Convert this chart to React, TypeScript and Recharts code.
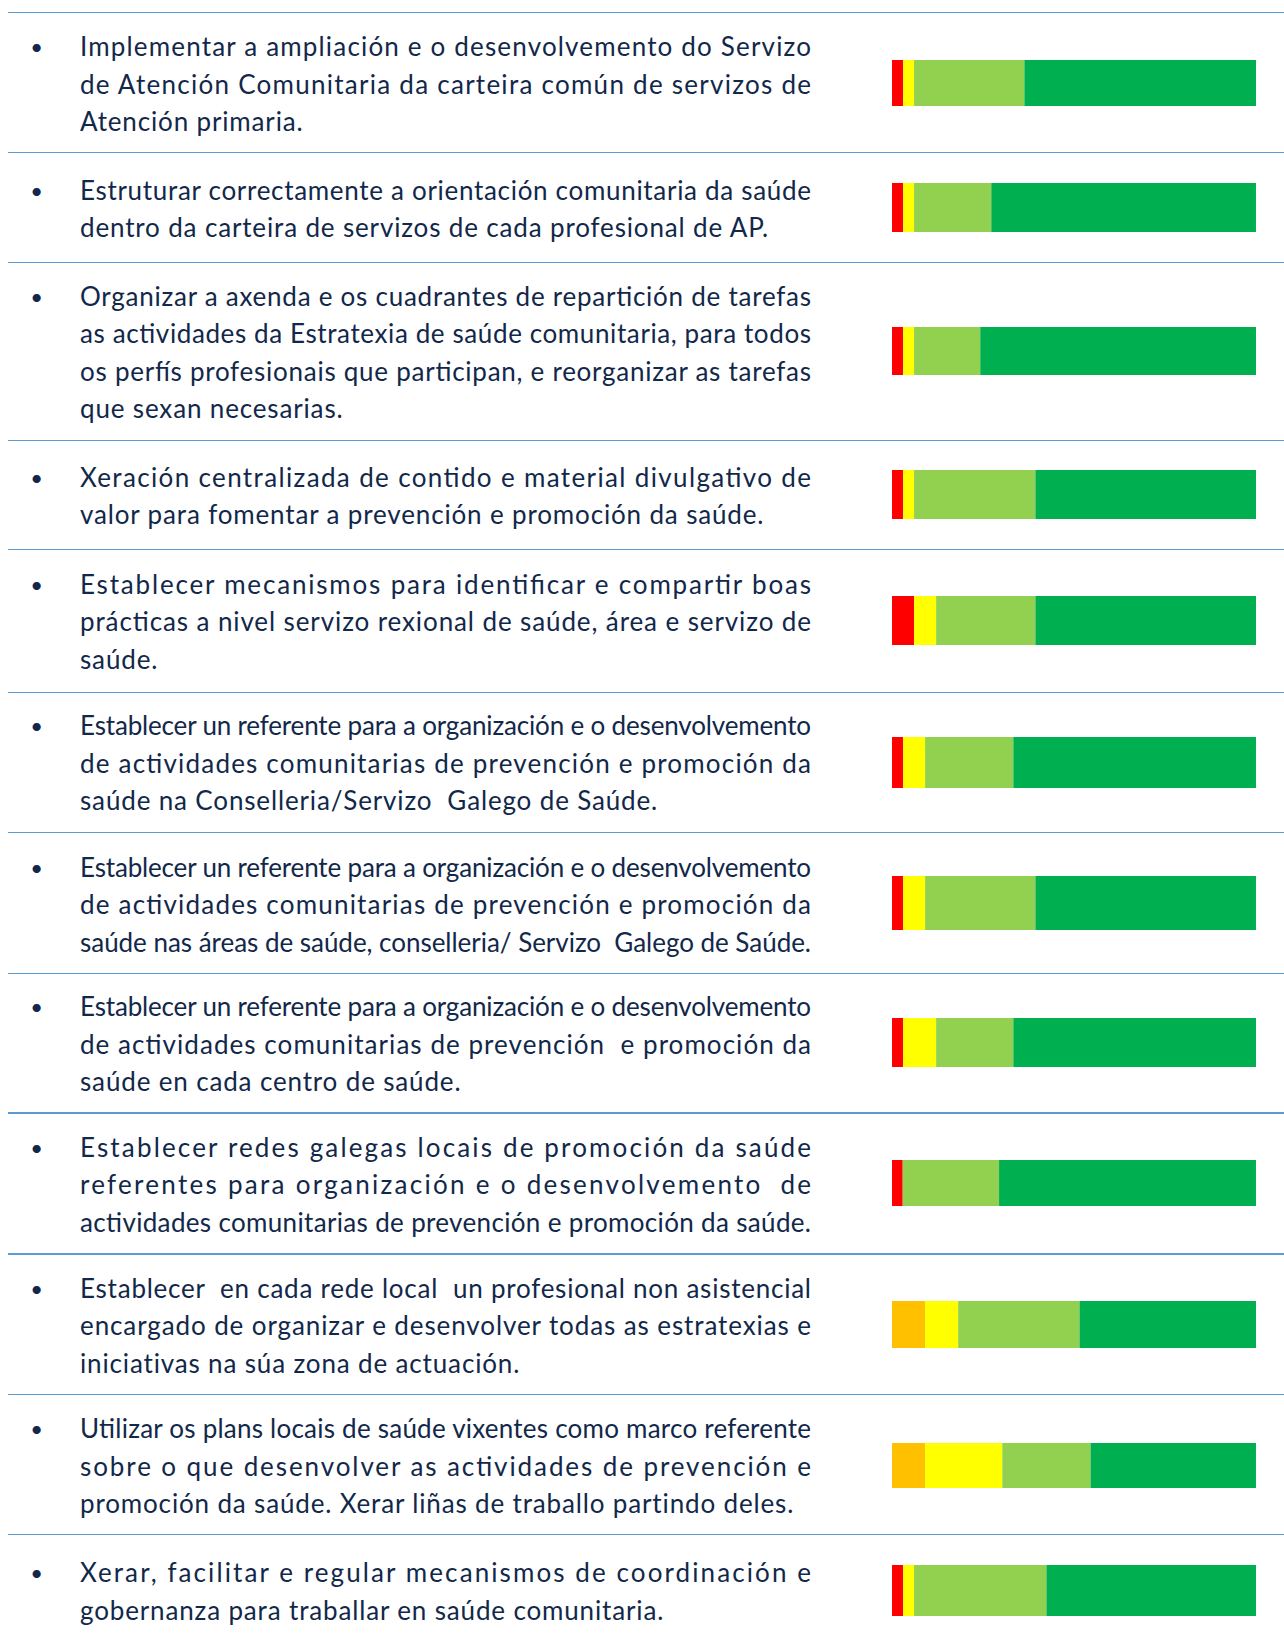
import React from 'react';
import { BarChart, Bar, XAxis, YAxis } from 'recharts';

// texto de cada actuación, xa partido en liñas como no orixinal
const actuacions: string[][] = [
  [
    'Implementar a ampliación e o desenvolvemento do Servizo',
    'de Atención Comunitaria da carteira común de servizos de',
    'Atención primaria.',
  ],
  [
    'Estruturar correctamente a orientación comunitaria da saúde',
    'dentro da carteira de servizos de cada profesional de AP.',
  ],
  [
    'Organizar a axenda e os cuadrantes de repartición de tarefas',
    'as actividades da Estratexia de saúde comunitaria, para todos',
    'os perfís profesionais que participan, e reorganizar as tarefas',
    'que sexan necesarias.',
  ],
  [
    'Xeración centralizada de contido e material divulgativo de',
    'valor para fomentar a prevención e promoción da saúde.',
  ],
  [
    'Establecer mecanismos para identificar e compartir boas',
    'prácticas a nivel servizo rexional de saúde, área e servizo de',
    'saúde.',
  ],
  [
    'Establecer un referente para a organización e o desenvolvemento',
    'de actividades comunitarias de prevención e promoción da',
    'saúde na Conselleria/Servizo  Galego de Saúde.',
  ],
  [
    'Establecer un referente para a organización e o desenvolvemento',
    'de actividades comunitarias de prevención e promoción da',
    'saúde nas áreas de saúde, conselleria/ Servizo  Galego de Saúde.',
  ],
  [
    'Establecer un referente para a organización e o desenvolvemento',
    'de actividades comunitarias de prevención  e promoción da',
    'saúde en cada centro de saúde.',
  ],
  [
    'Establecer redes galegas locais de promoción da saúde',
    'referentes para organización e o desenvolvemento  de',
    'actividades comunitarias de prevención e promoción da saúde.',
  ],
  [
    'Establecer  en cada rede local  un profesional non asistencial',
    'encargado de organizar e desenvolver todas as estratexias e',
    'iniciativas na súa zona de actuación.',
  ],
  [
    'Utilizar os plans locais de saúde vixentes como marco referente',
    'sobre o que desenvolver as actividades de prevención e',
    'promoción da saúde. Xerar liñas de traballo partindo deles.',
  ],
  [
    'Xerar, facilitar e regular mecanismos de coordinación e',
    'gobernanza para traballar en saúde comunitaria.',
  ],
];

// respostas por categoría (barras ao 100 %)
const vermello = [1, 1, 1, 1, 2, 1, 1, 1, 1, 0, 0, 1];
const laranxa = [0, 0, 0, 0, 0, 0, 0, 0, 0, 3, 3, 0];
const amarelo = [1, 1, 1, 1, 2, 2, 2, 3, 0, 3, 7, 1];
const verdeClaro = [10, 7, 6, 11, 9, 8, 10, 7, 9, 11, 8, 12];
const verde = [21, 24, 25, 20, 20, 22, 20, 22, 24, 16, 15, 19];

const series = [
  { key: 'vermello', color: '#FF0000' },
  { key: 'laranxa', color: '#FFC000' },
  { key: 'amarelo', color: '#FFFF00' },
  { key: 'verdeClaro', color: '#92D050' },
  { key: 'verde', color: '#00B050' },
];

// maquetación
const TOP = 12.7;
const rowHeights = [140, 109.6, 178, 109, 143, 140.4, 140.6, 139.8, 140.9, 140.5, 140.2, 110];
const barThickness = [46, 49, 48, 49, 49, 51, 54, 49, 46, 47, 45, 51];
// a última liña chega á marxe dereita
const lastLineFull = [false, false, false, false, false, false, true, false, true, false, false, false];
const LINE_H = 37.5;
const TEXT_X = 80;
const TEXT_W = 731;
const TEXT_COLOR = '#12284a';
const RULE_COLOR = '#5b9bd5';
const FONT = 'Lato, "Open Sans", sans-serif';

const Fila: React.FC<{ i: number; top: number }> = ({ i, top }) => {
  const h = rowHeights[i];
  const lines = actuacions[i];
  const n = lines.length;
  const firstBase = (h - n * LINE_H) / 2 + 29.5;
  const data = [
    {
      name: `a${i}`,
      vermello: vermello[i],
      laranxa: laranxa[i],
      amarelo: amarelo[i],
      verdeClaro: verdeClaro[i],
      verde: verde[i],
    },
  ];

  return (
    <div style={{ position: 'absolute', left: 0, top, width: 1284, height: h }}>
      <div
        style={{ position: 'absolute', left: 8, right: 0, top: -0.75, height: 1.5, background: RULE_COLOR }}
      />
      <svg width={850} height={h} style={{ position: 'absolute', left: 0, top: 0 }}>
        <text
          x={36.7}
          y={firstBase - 1}
          textAnchor="middle"
          fontFamily={FONT}
          fontSize={22}
          fill={TEXT_COLOR}
        >
          •
        </text>
        {lines.map((line, j) => {
          const justify = j < n - 1 || lastLineFull[i];
          return (
            <text
              key={j}
              x={TEXT_X}
              y={firstBase + j * LINE_H}
              fontFamily={FONT}
              fontSize={26}
              fill={TEXT_COLOR}
              style={{ whiteSpace: 'pre', letterSpacing: justify ? 0 : 0.85 }}
              textLength={justify ? TEXT_W : undefined}
              lengthAdjust={justify ? 'spacing' : undefined}
            >
              {line}
            </text>
          );
        })}
      </svg>
      <div style={{ position: 'absolute', left: 880, top: 0 }}>
        <BarChart
          layout="vertical"
          width={400}
          height={h}
          data={data}
          stackOffset="expand"
          barCategoryGap={0}
          margin={{ top: 0, right: 24, bottom: 0, left: 12 }}
        >
          <XAxis type="number" hide domain={[0, 1]} />
          <YAxis type="category" dataKey="name" hide />
          {series.map((s) => (
            <Bar
              key={s.key}
              dataKey={s.key}
              stackId="a"
              fill={s.color}
              barSize={barThickness[i]}
              isAnimationActive={false}
            />
          ))}
        </BarChart>
      </div>
    </div>
  );
};

export default function App() {
  let acc = TOP;
  const tops = rowHeights.map((h) => {
    const t = acc;
    acc += h;
    return t;
  });

  return (
    <div
      style={{
        position: 'relative',
        width: 1284,
        height: 1634,
        overflow: 'hidden',
        background: '#ffffff',
        fontFamily: FONT,
      }}
    >
      <style>{'body{margin:0}'}</style>
      {tops.map((t, i) => (
        <Fila key={i} i={i} top={t} />
      ))}
    </div>
  );
}
